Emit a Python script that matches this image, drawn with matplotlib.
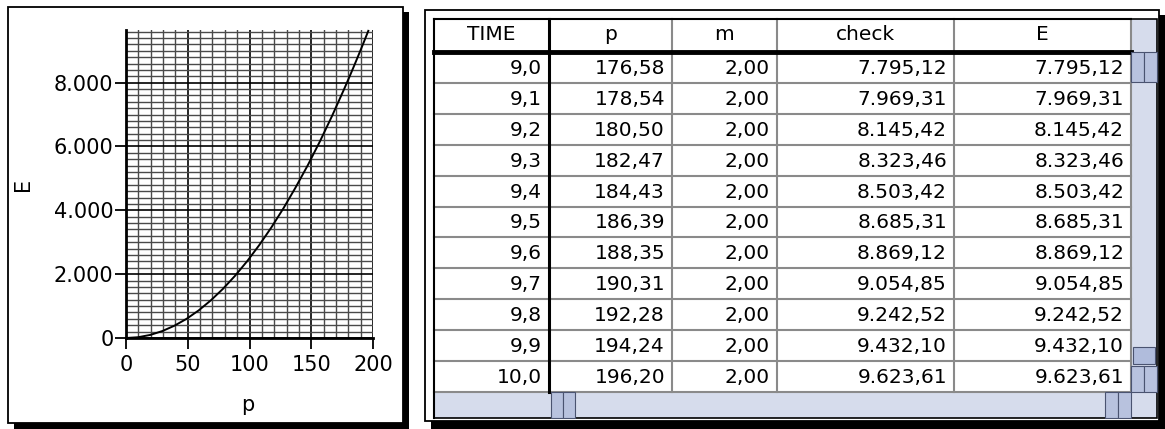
import numpy as np
import matplotlib
matplotlib.use("Agg")
import matplotlib.pyplot as plt
from matplotlib.patches import Rectangle
from matplotlib.ticker import FuncFormatter

# curve E(p), points (last part = table rows)
curve_p = [0, 9.8, 19.6, 29.4, 39.2, 49.1, 58.9, 68.7, 78.5, 88.3, 98.1, 107.9,
           117.7, 127.5, 137.3, 147.2, 157.0, 166.8, 176.58, 178.54, 180.50,
           182.47, 184.43, 186.39, 188.35, 190.31, 192.28, 194.24, 196.20]
curve_E = [0, 24, 96, 217, 385, 602, 866, 1180, 1540, 1949, 2406, 2911,
           3464, 4065, 4715, 5413, 6159, 6953, 7795.12, 7969.31, 8145.42,
           8323.46, 8503.42, 8685.31, 8869.12, 9054.85, 9242.52, 9432.10, 9623.61]

# table
headers = ["TIME", "p", "m", "check", "E"]
time_vals = [9.0, 9.1, 9.2, 9.3, 9.4, 9.5, 9.6, 9.7, 9.8, 9.9, 10.0]
p_vals = [176.58, 178.54, 180.50, 182.47, 184.43, 186.39, 188.35, 190.31, 192.28, 194.24, 196.20]
m_vals = [2.00] * 11
check_vals = [7795.12, 7969.31, 8145.42, 8323.46, 8503.42, 8685.31, 8869.12,
              9054.85, 9242.52, 9432.10, 9623.61]
E_vals = [7795.12, 7969.31, 8145.42, 8323.46, 8503.42, 8685.31, 8869.12,
          9054.85, 9242.52, 9432.10, 9623.61]


def fmt(v, d):
    s = f"{v:,.{d}f}"
    return s.replace(",", "X").replace(".", ",").replace("X", ".")


W, H = 1165, 429
fig = plt.figure(figsize=(W / 100, H / 100), dpi=100)
bg = fig.add_axes([0, 0, 1, 1])
bg.set_xlim(0, W)
bg.set_ylim(H, 0)
bg.axis("off")


def rect(x0, y0, x1, y1, fc="none", ec="black", lw=1.0, z=1):
    bg.add_patch(Rectangle((x0, y0), x1 - x0, y1 - y0, facecolor=fc,
                           edgecolor=ec, linewidth=lw, zorder=z))


# left panel box + shadow
rect(14, 12, 409, 429, fc="black", ec="none")
rect(8, 7, 403, 423, fc="white", ec="black", lw=1.3, z=2)

# right panel box + shadow
rect(431, 15, 1165, 429, fc="black", ec="none")
rect(425, 10, 1159, 421, fc="white", ec="black", lw=1.3, z=2)

# ---- graph ----
ax = fig.add_axes([126 / W, (H - 338) / H, 247 / W, 308 / H])
ax.set_zorder(3)
ax.patch.set_alpha(0)
ax.set_xlim(0, 200)
ax.set_ylim(0, 9650)
ax.set_xticks([0, 50, 100, 150, 200])
ax.set_yticks([0, 2000, 4000, 6000, 8000])
ax.set_xticks(np.arange(0, 201, 10), minor=True)
ax.set_yticks(np.arange(0, 9601, 200), minor=True)
ax.grid(which="minor", color="#4a4a4a", lw=1.0)
ax.grid(which="major", color="black", lw=1.2)
ax.tick_params(which="minor", length=0)
ax.tick_params(which="major", length=8, width=1.3, labelsize=15, pad=4)
ax.tick_params(axis="y", pad=1)
ax.yaxis.set_major_formatter(FuncFormatter(lambda v, _: fmt(v, 0)))
for s in ["top", "right"]:
    ax.spines[s].set_visible(False)
for s in ["left", "bottom"]:
    ax.spines[s].set_linewidth(2)
ax.plot(curve_p, curve_E, color="black", lw=1.4, clip_on=False, zorder=5)
ax.set_xlabel("p", fontsize=15)
ax.set_ylabel("E", fontsize=15)
ax.xaxis.set_label_coords(0.494, -0.185)
ax.yaxis.set_label_coords(-0.375, 0.5)

# ---- table ----
cols = [434, 549, 672, 777, 954, 1131]
top, head_bot, tab_bot = 19, 52, 392
row_h = (tab_bot - head_bot) / len(time_vals)
rows = [[fmt(t, 1), fmt(p, 2), fmt(m, 2), fmt(c, 2), fmt(e, 2)]
        for t, p, m, c, e in zip(time_vals, p_vals, m_vals, check_vals, E_vals)]

for i, h in enumerate(headers):
    bg.text((cols[i] + cols[i + 1]) / 2, (top + head_bot) / 2 - 1, h,
            ha="center", va="center", fontsize=14.5, zorder=5)
for r, vals in enumerate(rows):
    yc = head_bot + (r + 0.5) * row_h
    for i, v in enumerate(vals):
        bg.text(cols[i + 1] - 7, yc + 1, v, ha="right", va="center",
                fontsize=14.5, zorder=5)
    bg.plot([cols[0], cols[-1]], [head_bot + (r + 1) * row_h] * 2,
            color="#8a8a8a", lw=1.5, zorder=4)

for x in cols[2:]:
    bg.plot([x, x], [top, tab_bot], color="#8a8a8a", lw=1.5, zorder=4)
bg.plot([cols[1], cols[1]], [top, tab_bot], color="black", lw=2.2, zorder=4)
bg.plot([cols[0], cols[-1]], [head_bot, head_bot], color="black", lw=3.5, zorder=4)
bg.plot([cols[0], cols[-1]], [top, top], color="black", lw=1.5, zorder=4)
bg.plot([cols[0], cols[0]], [top, 418], color="black", lw=1.5, zorder=4)

# scrollbars
sb = "#d6dcec"
dark = "#4a5370"
rect(1131, top, 1157, tab_bot, fc=sb, ec="black", lw=1.2, z=3)
rect(1131, 52, 1144, 82, fc="#b8c2de", ec=dark, lw=0.8, z=4)
rect(1144, 52, 1157, 82, fc="#b8c2de", ec=dark, lw=0.8, z=4)
rect(1133, 347, 1155, 364, fc="#b0bcdc", ec=dark, lw=0.8, z=4)
rect(1131, 366, 1144, 392, fc="#b8c2de", ec=dark, lw=0.8, z=4)
rect(1144, 366, 1157, 392, fc="#b8c2de", ec=dark, lw=0.8, z=4)
rect(cols[0], tab_bot, 1131, 418, fc=sb, ec="black", lw=1.2, z=3)
rect(551, tab_bot, 563, 418, fc="#b8c2de", ec=dark, lw=0.8, z=4)
rect(563, tab_bot, 575, 418, fc="#b8c2de", ec=dark, lw=0.8, z=4)
rect(1105, tab_bot, 1118, 418, fc="#b8c2de", ec=dark, lw=0.8, z=4)
rect(1118, tab_bot, 1131, 418, fc="#b8c2de", ec=dark, lw=0.8, z=4)
rect(1131, tab_bot, 1157, 418, fc=sb, ec="black", lw=1.2, z=3)

fig.savefig("out.png", dpi=100)
